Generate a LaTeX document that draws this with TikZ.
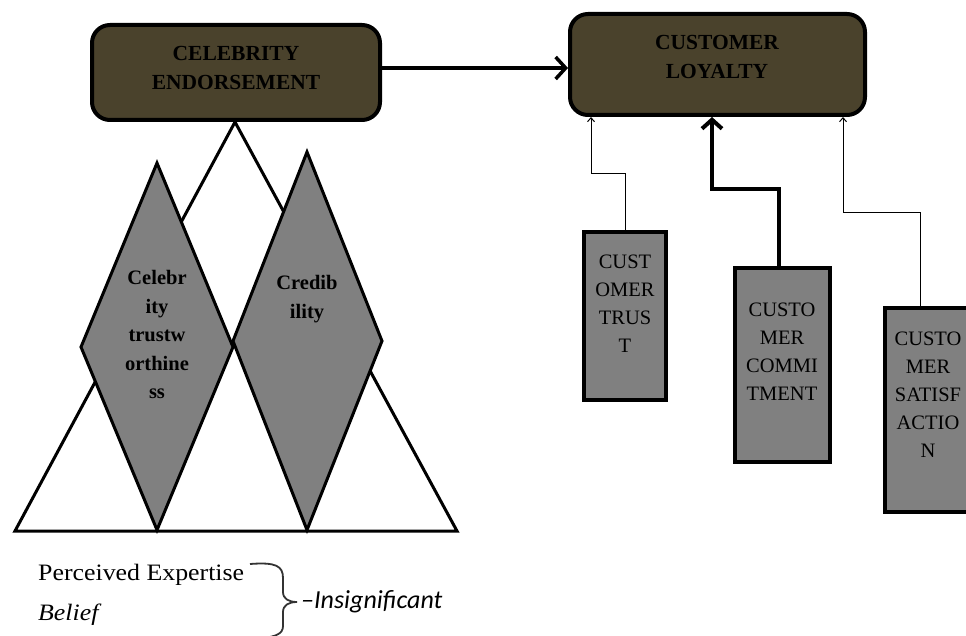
\documentclass[tikz,border=0pt]{standalone}
\usepackage{fontspec}
\setmainfont{Liberation Serif}
\newfontfamily\calibri{Carlito}
\newfontfamily\cambria[FakeStretch=1.1]{Liberation Serif}
\usetikzlibrary{arrows.meta}
\definecolor{boxolive}{RGB}{74,66,44}
\definecolor{boxgray}{RGB}{128,128,128}
\begin{document}
\begin{tikzpicture}[x=1pt,y=-1pt,
  topbox/.style={draw=black, line width=4pt, fill=boxolive, rounded corners=18pt, inner sep=0pt},
  custbox/.style={draw=black, line width=4pt, fill=boxgray, inner sep=0pt},
  toptext/.style={font=\fontsize{21.5}{29}\selectfont\bfseries, align=center, text=black, inner sep=0pt},
  custtext/.style={font=\fontsize{20.5}{28}\selectfont, align=center, text=black, inner sep=0pt},
  diatext/.style={font=\fontsize{20.5}{28.5}\selectfont\bfseries, align=center, text=black, inner sep=0pt},
  figshape/.style={draw=black, line width=3pt, line join=miter},
  mainarrow/.style={line width=3.5pt, -{Straight Barb[length=10pt,width=22pt]}},
  thinarrow/.style={line width=1pt, -{Straight Barb[length=4pt,width=7pt]}},
  thickarrow/.style={line width=4pt, -{Straight Barb[length=9pt,width=20pt]}},
  bottomtext/.style={anchor=base west, inner sep=0pt}
]
\useasboundingbox (0,0) rectangle (966,636);
\clip (0,0) rectangle (966,636);

% triangle and diamonds
\draw[figshape, fill=white] (235,122) -- (15,531) -- (457,531) -- cycle;
\draw[figshape, fill=boxgray] (157,163) -- (233,347) -- (157,530) -- (81,347) -- cycle;
\draw[figshape, fill=boxgray] (307,152) -- (382,341) -- (307,530) -- (233,341) -- cycle;
\node[diatext] (d1text) at (157,334.5) {Celebr\\ity\\trustw\\orthine\\ss};
\node[diatext] (d2text) at (307,299) {Credib\\ility};

% top boxes
\node[topbox, minimum width=288pt, minimum height=95pt] (ce) at (236,72.5) {};
\node[toptext] (cetext) at (236,67.5) {CELEBRITY\\ENDORSEMENT};
\node[topbox, minimum width=295pt, minimum height=101pt] (cl) at (717.5,64.5) {};
\node[toptext] (cltext) at (717,56.5) {CUSTOMER\\LOYALTY};

\draw[mainarrow] ([yshift=4.5pt]ce.east) -- ([yshift=-3.5pt]cl.west);

% customer boxes
\node[custbox, minimum width=82pt, minimum height=168pt] (ct) at (625,316) {};
\node[custtext] (cttext) at (625,303.5) {CUST\\OMER\\TRUS\\T};
\node[custbox, minimum width=95pt, minimum height=194pt] (cm) at (782.5,365) {};
\node[custtext] (cmtext) at (782,351.5) {CUSTO\\MER\\COMMI\\TMENT};
\node[custbox, minimum width=88pt, minimum height=204pt] (cs) at (929,410) {};
\node[custtext] (cstext) at (928,395) {CUSTO\\MER\\SATISF\\ACTIO\\N};

\draw[thinarrow] (ct.north) -- ++(0,-56) -| ([xshift=-126.5pt]cl.south);
\draw[thickarrow] ([xshift=-3.5pt]cm.north) -- ++(0,-77) -| ([xshift=-5.5pt]cl.south);
\draw[thinarrow] ([xshift=-9pt]cs.north) -- ++(0,-93) -| ([xshift=125.5pt]cl.south);

% bottom legend
\node[bottomtext, font=\cambria\fontsize{23.5}{28}\selectfont] (pe) at (38,580) {Perceived Expertise};
\node[bottomtext, font=\cambria\itshape\fontsize{23.5}{28}\selectfont] (bel) at (38,620) {Belief};
\node[bottomtext, font=\calibri\itshape\fontsize{26}{30}\selectfont] (ins) at (301,608) {–Insignificant};
\draw[line width=1.8pt, black!80] (250,564) .. controls (276,562) and (283,566) .. (283,578) -- (283,592)
  .. controls (283,599) and (289,602) .. (297,602)
  .. controls (289,602) and (283,605) .. (283,612) -- (283,626)
  .. controls (283,634) and (276,638) .. (250,639);
\end{tikzpicture}
\end{document}
